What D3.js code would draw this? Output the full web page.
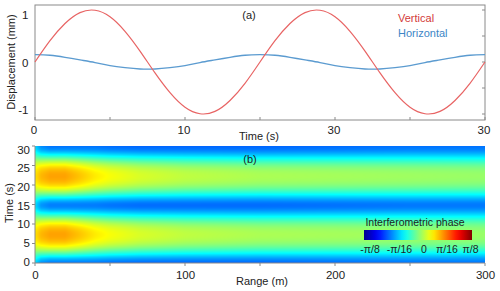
<!DOCTYPE html>
<html>
<head>
<meta charset="utf-8">
<script src="https://cdn.jsdelivr.net/npm/d3@7"></script>
<style>
body { margin: 0; background: #fff; }
svg text { font-family: "Liberation Sans", Arial, Helvetica, sans-serif; fill: #222; }
</style>
</head>
<body>
<svg id="chart" width="500" height="291"></svg>
<script>
// panel (a): displacement sampled every second
var times = d3.range(0, 31);
var vertical = [0, 0.41, 0.74, 0.95, 0.995, 0.87, 0.59, 0.21, -0.21, -0.59, -0.87, -0.995, -0.95, -0.74, -0.41, 0,
	0.41, 0.74, 0.95, 0.995, 0.87, 0.59, 0.21, -0.21, -0.59, -0.87, -0.995, -0.95, -0.74, -0.41, 0];
var horizontal = [0.14, 0.13, 0.09, 0.04, -0.01, -0.07, -0.11, -0.135, -0.135, -0.11, -0.07, -0.01, 0.04, 0.09, 0.13, 0.14,
	0.13, 0.09, 0.04, -0.01, -0.07, -0.11, -0.135, -0.135, -0.11, -0.07, -0.01, 0.04, 0.09, 0.13, 0.14];
var timeTicks = [0, 10, 20, 30];
var timeTickLabels = ["0", "10", "30", "30"];
var dispTicks = [1, 0, -1];

// panel (b): phase (rad) at the crest and the trough of each band, along range
var rangeStops = [0, 4, 10, 20, 30, 40, 50, 70, 100, 150, 200, 250, 300];
var crestPhase = [0.12, 0.155, 0.172, 0.172, 0.145, 0.115, 0.095, 0.07, 0.05, 0.035, 0.03, 0.025, 0.02];
var troughPhase = [-0.13, -0.19, -0.21, -0.21, -0.21, -0.21, -0.215, -0.22, -0.22, -0.22, -0.215, -0.21, -0.21];
// where each second sits between trough (0) and crest (1)
var phaseProfile = [0.01, 0.13, 0.35, 0.58, 0.77, 0.90, 0.97, 1.0, 0.99, 0.94, 0.84, 0.67, 0.46, 0.24, 0.06, 0.01,
	0.13, 0.35, 0.58, 0.77, 0.90, 0.97, 1.0, 0.99, 0.94, 0.84, 0.67, 0.46, 0.24, 0.06, 0.01];
var rangeTicks = [0, 100, 200, 300];
var timeTicksB = [0, 5, 10, 15, 20, 25, 30];
var cbarTicks = [-Math.PI / 8, -Math.PI / 16, 0, Math.PI / 16, Math.PI / 8];
var cbarLabels = ["-\u03c0/8", "-\u03c0/16", "0", "\u03c0/16", "\u03c0/8"];
var jet = ["#00008f", "#0000ff", "#0080ff", "#00ffff", "#80ff80", "#ffff00", "#ff8000", "#ff0000", "#800000"];

var svg = d3.select("#chart"),
	x0 = 35, x1 = 485,
	frame = "#8a8a8a";

// ---------- panel (a)
var xA = d3.scaleLinear().domain([0, 30]).range([x0, x1]),
	yA = d3.scaleLinear().domain([-1, 1]).range([114, 10]),
	yALabel = d3.scaleLinear().domain([-1, 1]).range([110, 15]);

var gA = svg.append("g");
gA.append("rect").attr("x", x0).attr("y", 5).attr("width", x1 - x0).attr("height", 115)
	.attr("fill", "none").attr("stroke", frame).attr("stroke-width", 1);

// inward ticks
gA.selectAll(".tb").data(d3.range(0, 31, 5)).enter().append("line")
	.attr("x1", function(d) { return xA(d); }).attr("x2", function(d) { return xA(d); })
	.attr("y1", 120).attr("y2", 117).attr("stroke", frame);
gA.selectAll(".tr").data(d3.range(-1, 1.01, 0.5)).enter().append("line")
	.attr("x1", x1).attr("x2", x1 - 3)
	.attr("y1", function(d) { return yA(d); }).attr("y2", function(d) { return yA(d); })
	.attr("stroke", frame);

var line = d3.line().curve(d3.curveNatural)
	.x(function(d, i) { return xA(times[i]); })
	.y(function(d) { return yA(d); });

gA.append("path").datum(horizontal).attr("d", line)
	.attr("fill", "none").attr("stroke", "#5b9bd0").attr("stroke-width", 1.3);
gA.append("path").datum(vertical).attr("d", line)
	.attr("fill", "none").attr("stroke", "#e86464").attr("stroke-width", 1.2);

gA.selectAll(".xl").data(timeTicks).enter().append("text")
	.attr("x", function(d) { return xA(d) - 1; }).attr("y", 133.5)
	.attr("text-anchor", "middle").attr("font-size", 11.5)
	.text(function(d, i) { return timeTickLabels[i]; });
gA.selectAll(".yl").data(dispTicks).enter().append("text")
	.attr("x", 28.5).attr("y", function(d) { return yALabel(d) + 4; })
	.attr("text-anchor", "end").attr("font-size", 11.5)
	.text(function(d) { return d; });

gA.append("text").attr("x", 259).attr("y", 139.5).attr("text-anchor", "middle")
	.attr("font-size", 11).text("Time (s)");
gA.append("text").attr("transform", "translate(15,62) rotate(-90)")
	.attr("text-anchor", "middle").attr("font-size", 11).text("Displacement (mm)");
gA.append("text").attr("x", 249).attr("y", 18.5).attr("text-anchor", "middle")
	.attr("font-size", 11).text("(a)");
gA.append("text").attr("x", 398).attr("y", 22).attr("font-size", 11)
	.style("fill", "#d33a3a").text("Vertical");
gA.append("text").attr("x", 398).attr("y", 37).attr("font-size", 11)
	.style("fill", "#3d86c6").text("Horizontal");

// ---------- panel (b)
var yB0 = 146, yB1 = 263;
var xB = d3.scaleLinear().domain([0, 300]).range([x0, x1]),
	yB = d3.scaleLinear().domain([0, 30]).range([yB1, yB0]),
	yBLabel = d3.scaleLinear().domain([0, 30]).range([261.7, 149.7]);

var color = d3.scaleLinear()
	.domain(d3.range(9).map(function(i) { return -Math.PI / 8 + i * Math.PI / 32; }))
	.range(jet).clamp(true);

var crestAt = d3.scaleLinear().domain(rangeStops).range(crestPhase),
	troughAt = d3.scaleLinear().domain(rangeStops).range(troughPhase),
	profileAt = d3.interpolateBasis(phaseProfile);

var w = x1 - x0, h = yB1 - yB0;
var cv = document.createElement("canvas");
cv.width = w; cv.height = h;
var ctx = cv.getContext("2d"),
	img = ctx.createImageData(w, h);
for (var px = 0; px < w; px++) {
	var r = xB.invert(x0 + px + 0.5),
		lo = troughAt(r), hi = crestAt(r);
	for (var py = 0; py < h; py++) {
		var t = yB.invert(yB0 + py + 0.5),
			v = lo + (hi - lo) * profileAt(t / 30),
			c = d3.rgb(color(v)),
			k = (py * w + px) * 4;
		img.data[k] = c.r; img.data[k + 1] = c.g; img.data[k + 2] = c.b; img.data[k + 3] = 255;
	}
}
ctx.putImageData(img, 0, 0);

var gB = svg.append("g");
gB.append("image").attr("x", x0).attr("y", yB0).attr("width", w).attr("height", h)
	.attr("preserveAspectRatio", "none").attr("href", cv.toDataURL());

gB.append("line").attr("x1", x0).attr("x2", x0).attr("y1", yB0).attr("y2", yB1).attr("stroke", frame);
gB.append("line").attr("x1", x0).attr("x2", x1).attr("y1", yB1).attr("y2", yB1).attr("stroke", frame);
gB.selectAll(".tb").data(d3.range(0, 301, 50)).enter().append("line")
	.attr("x1", function(d) { return xB(d); }).attr("x2", function(d) { return xB(d); })
	.attr("y1", yB1).attr("y2", yB1 + 3).attr("stroke", frame);
gB.selectAll(".tl").data(timeTicksB).enter().append("line")
	.attr("x1", x0).attr("x2", x0 - 3)
	.attr("y1", function(d) { return yB(d); }).attr("y2", function(d) { return yB(d); })
	.attr("stroke", frame);

gB.selectAll(".xl").data(rangeTicks).enter().append("text")
	.attr("x", function(d) { return xB(d) + 0.5; }).attr("y", 278.5)
	.attr("text-anchor", "middle").attr("font-size", 11.5)
	.text(function(d) { return d; });
gB.selectAll(".yl").data(timeTicksB).enter().append("text")
	.attr("x", 30).attr("y", function(d) { return yBLabel(d) + 4; })
	.attr("text-anchor", "end").attr("font-size", 11.5)
	.text(function(d) { return d; });

gB.append("text").attr("x", 262).attr("y", 285).attr("text-anchor", "middle")
	.attr("font-size", 11).text("Range (m)");
gB.append("text").attr("transform", "translate(13,203) rotate(-90)")
	.attr("text-anchor", "middle").attr("font-size", 11).text("Time (s)");
gB.append("text").attr("x", 250).attr("y", 163).attr("text-anchor", "middle")
	.attr("font-size", 11).text("(b)");

// colour bar
var cb = { x: 364, y: 230, w: 108, h: 10 };
var grad = svg.append("defs").append("linearGradient").attr("id", "jetgrad");
grad.selectAll("stop").data(d3.range(0, 1.001, 0.05)).enter().append("stop")
	.attr("offset", function(d) { return d; })
	.attr("stop-color", function(d) { return color(-Math.PI / 8 + d * Math.PI / 4); });
gB.append("rect").attr("x", cb.x).attr("y", cb.y).attr("width", cb.w).attr("height", cb.h)
	.attr("fill", "url(#jetgrad)");
gB.append("text").attr("x", 415).attr("y", 226).attr("text-anchor", "middle")
	.attr("font-size", 10.5).text("Interferometric phase");
// labels sit a little unevenly under the bar in the original
var cbLabel = d3.scaleOrdinal().domain(cbarTicks).range([370, 399.5, 424, 447, 470.5]);
gB.selectAll(".cl").data(cbarTicks).enter().append("text")
	.attr("x", function(d) { return cbLabel(d); }).attr("y", 253)
	.attr("text-anchor", "middle").attr("font-size", 10.5)
	.text(function(d, i) { return cbarLabels[i]; });
</script>
</body>
</html>
